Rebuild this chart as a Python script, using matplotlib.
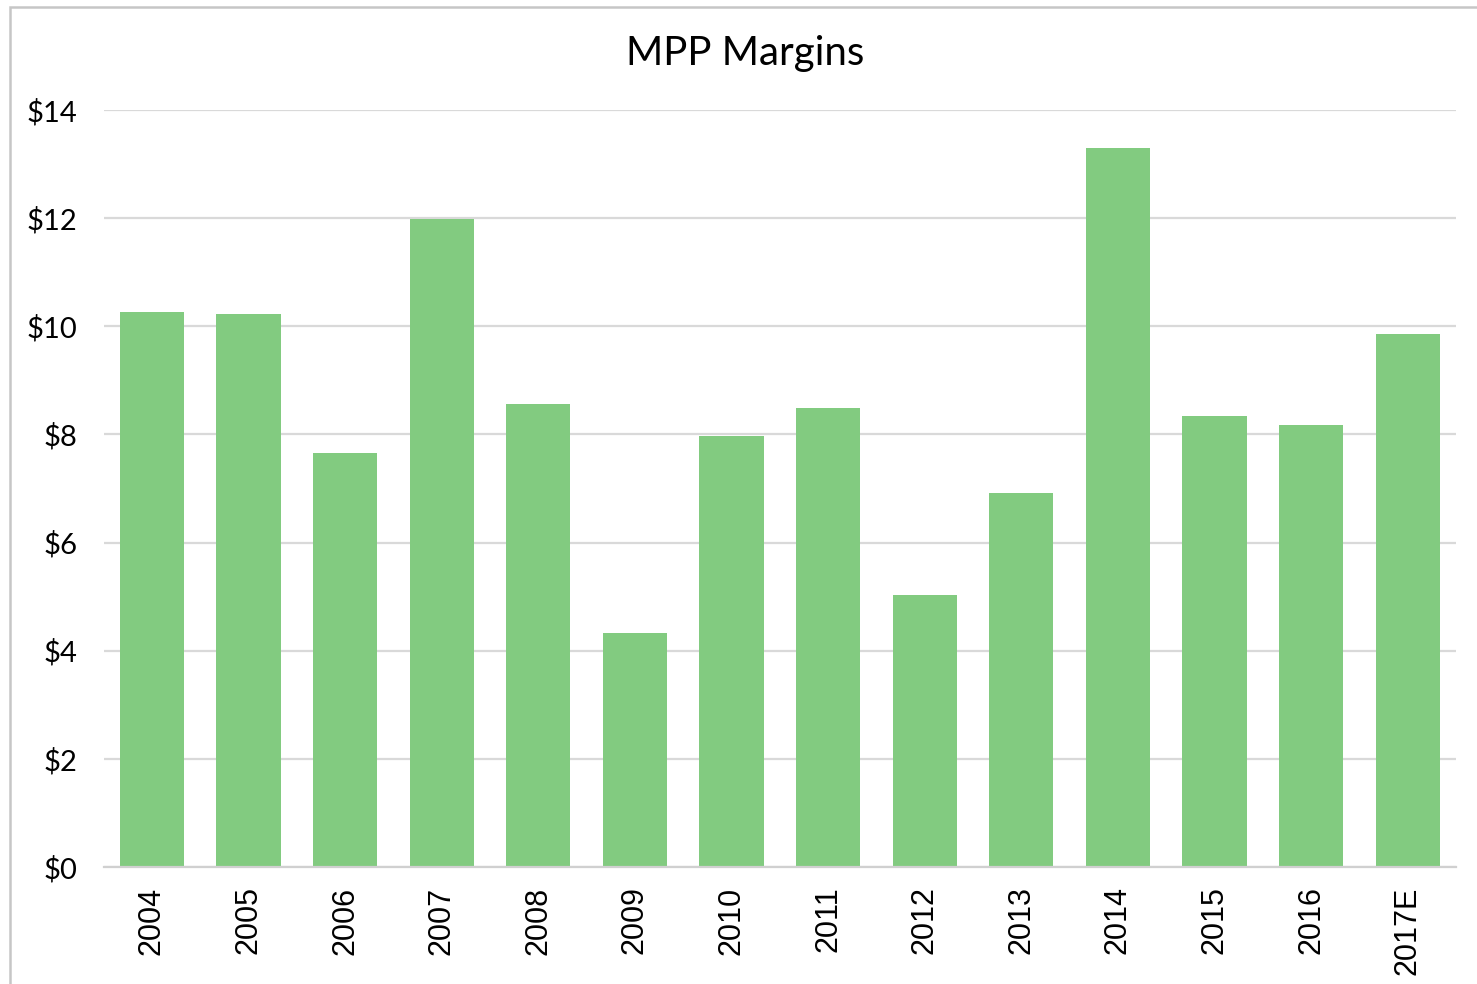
import matplotlib
matplotlib.use("Agg")
import matplotlib.pyplot as plt
from matplotlib.patches import Rectangle

categories = ["2004", "2005", "2006", "2007", "2008", "2009", "2010",
              "2011", "2012", "2013", "2014", "2015", "2016", "2017E"]
margins = [10.27, 10.23, 7.66, 11.98, 8.57, 4.33, 7.97,
           8.49, 5.03, 6.92, 13.30, 8.35, 8.18, 9.86]
yticks = [0, 2, 4, 6, 8, 10, 12, 14]
ytick_labels = ["$0", "$2", "$4", "$6", "$8", "$10", "$12", "$14"]

W, H = 1477, 984
fig = plt.figure(figsize=(W / 100, H / 100), dpi=100)
fig.patch.set_facecolor("white")

# outer frame
fig.patches.append(Rectangle((10 / W, -0.05), 1.2, 1 - 7 / H + 0.05,
                             transform=fig.transFigure, fill=False,
                             edgecolor="#c6c6c6", linewidth=1.8))

left, right = 103.5 / W, 1456 / W
bottom, top = 1 - 867 / H, 1 - 110 / H
ax = fig.add_axes([left, bottom, right - left, top - bottom])

x = range(len(categories))
ax.bar(x, margins, width=0.665, color="#82cb80", zorder=3)
ax.set_xlim(-0.5, len(categories) - 0.5)
ax.set_ylim(0, 14)

ax.set_yticks(yticks)
ax.set_yticklabels(ytick_labels, fontfamily="Lato", fontsize=21)
ax.set_xticks(list(x))
ax.set_xticklabels(categories, rotation=90, fontfamily="Liberation Sans",
                   fontsize=22)
ax.tick_params(axis="both", length=0, colors="black")
ax.tick_params(axis="y", pad=19)
ax.tick_params(axis="x", pad=14)

ax.grid(axis="y", color="#d9d9d9", linewidth=1.6, zorder=0)
for s in ["top", "right", "left"]:
    ax.spines[s].set_visible(False)
ax.spines["bottom"].set_color("#d0d0d0")
ax.spines["bottom"].set_linewidth(1.6)
ax.spines["bottom"].set_zorder(4)

fig.text(745 / W, 1 - 54 / H, "MPP Margins", ha="center", va="center",
         fontfamily="Lato", fontsize=29, color="black")

fig.savefig("out.png", dpi=100, facecolor="white")
